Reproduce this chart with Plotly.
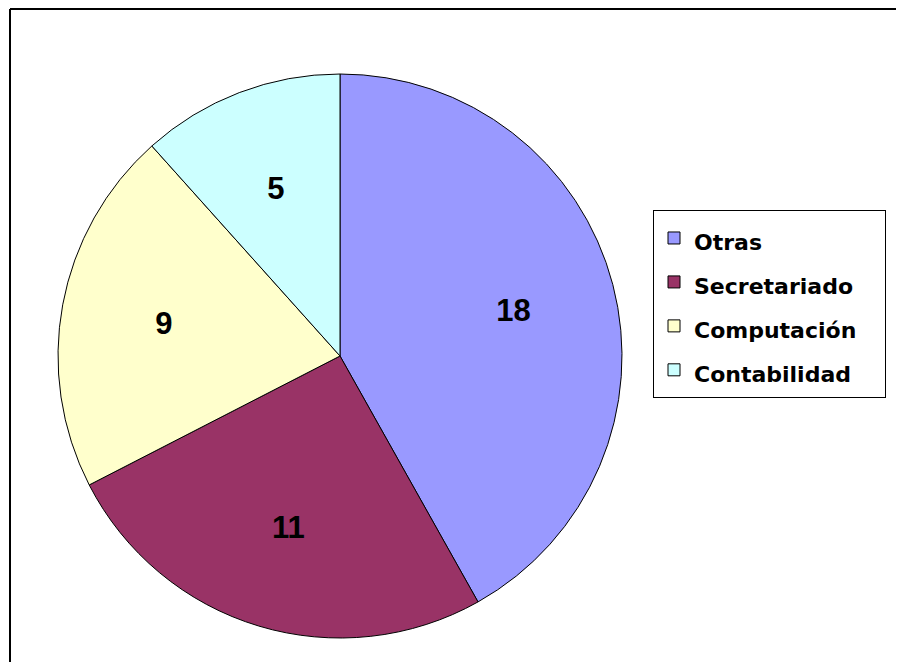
import plotly.graph_objects as go

categories = ["Otras", "Secretariado", "Computación", "Contabilidad"]
values = [18, 11, 9, 5]
colors = ["#9999FF", "#993366", "#FFFFCC", "#CCFFFF"]

# the page body has an 8px margin, so the figure is sized to fit the window
OFF = 8
W, H = 904 - OFF, 662 - OFF


def px(x):
    return (x - OFF) / W


def py(y):
    return 1 - (y - OFF) / H


cx, cy, r = 340, 356, 282
r_lab = 224  # radius of the transparent ring trace that carries the value labels

legend_labels = ['<span style="font-size:22px">%s\u00a0\u00a0\u00a0</span>' % c for c in categories]

pie = go.Pie(
    labels=legend_labels,
    values=values,
    sort=False,
    direction="clockwise",
    rotation=0,
    marker=dict(colors=colors, line=dict(color="black", width=1)),
    textinfo="none",
    domain=dict(x=[px(cx - r), px(cx + r)], y=[py(cy + r), py(cy - r)]),
    hoverinfo="label+value",
)

labels_ring = go.Pie(
    labels=categories,
    values=values,
    sort=False,
    direction="clockwise",
    rotation=0,
    hole=0.6,
    marker=dict(colors=["rgba(0,0,0,0)"] * len(values), line=dict(width=0)),
    textinfo="value",
    textposition="inside",
    insidetextorientation="horizontal",
    textfont=dict(family="Liberation Sans", size=31, color="black", weight="bold"),
    domain=dict(x=[px(cx - r_lab), px(cx + r_lab)], y=[py(cy + r_lab), py(cy - r_lab)]),
    showlegend=False,
    hoverinfo="skip",
)

fig = go.Figure([pie, labels_ring])

fig.update_layout(
    width=W, height=H,
    margin=dict(l=0, r=0, t=0, b=0),
    paper_bgcolor="white",
    plot_bgcolor="white",
    showlegend=True,
    legend=dict(
        x=px(653), y=py(210), xanchor="left", yanchor="top",
        bgcolor="white", bordercolor="black", borderwidth=1,
        font=dict(family="DejaVu Sans", size=31.5, color="black", weight="bold"),
        traceorder="normal",
    ),
    shapes=[
        dict(type="line", xref="paper", yref="paper", x0=px(10), x1=1.0, y0=py(9), y1=py(9),
             line=dict(color="black", width=2)),
        dict(type="line", xref="paper", yref="paper", x0=px(10), x1=px(10), y0=py(9), y1=0,
             line=dict(color="black", width=2)),
    ],
)

fig.write_html("out.html")
